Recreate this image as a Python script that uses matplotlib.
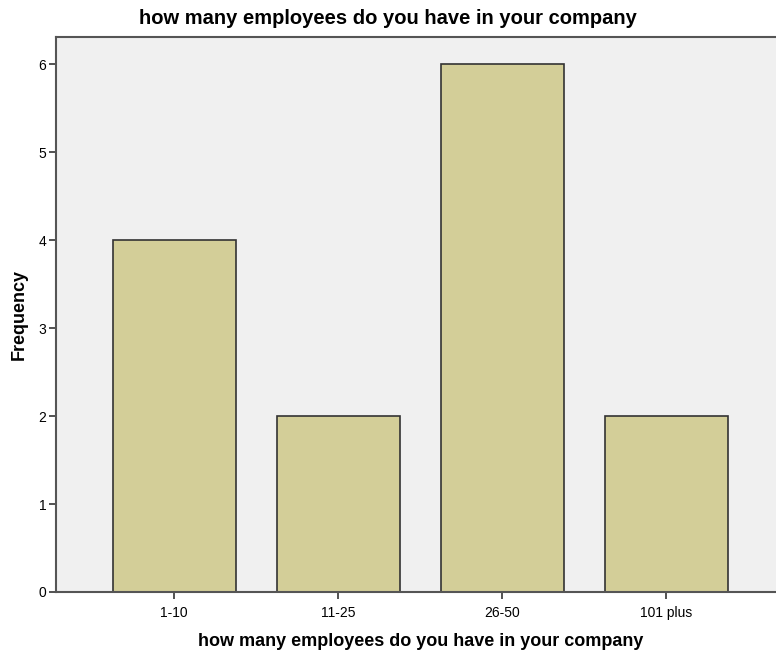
import matplotlib
matplotlib.use("Agg")
import matplotlib.pyplot as plt

plt.rcParams["font.family"] = ["Liberation Sans", "DejaVu Sans"]

categories = ["1-10", "11-25", "26-50", "101 plus"]
counts = [4, 2, 6, 2]
yticks = [0, 1, 2, 3, 4, 5, 6]
title = "how many employees do you have in your company"

fig = plt.figure(figsize=(7.76, 6.55), dpi=100)
ax = fig.add_axes([0.0722, 0.0962, 0.9278, 0.8473])
ax.set_facecolor("#F0F0F0")

x = list(range(len(categories)))
ax.bar(x, counts, width=0.75, color="#D3CE98", edgecolor="#333333", linewidth=1.2, zorder=2)

ax.set_xlim(-0.72, 3.67)
ax.set_ylim(0, 6.31)
ax.set_xticks(x)
ax.set_xticklabels(categories, fontsize=10)
ax.set_yticks(yticks)
ax.set_yticklabels([str(v) for v in yticks], fontsize=10)
ax.tick_params(axis="x", length=5, width=1.2, color="#333333", pad=5)
ax.tick_params(axis="y", length=5, width=1.2, color="#333333", pad=2)

for side in ["left", "bottom", "top"]:
    ax.spines[side].set_color("#555555")
    ax.spines[side].set_linewidth(1.5)
ax.spines["right"].set_visible(False)

ax.set_ylabel("Frequency", fontsize=13, fontweight="bold", labelpad=8)
ax.set_xlabel(title, fontsize=13, fontweight="bold", labelpad=10)
ax.xaxis.set_label_coords(0.507, -0.074)
fig.text(0.5, 0.972, title, ha="center", va="center", fontsize=14.5, fontweight="bold")

fig.savefig("out.png", dpi=100)
